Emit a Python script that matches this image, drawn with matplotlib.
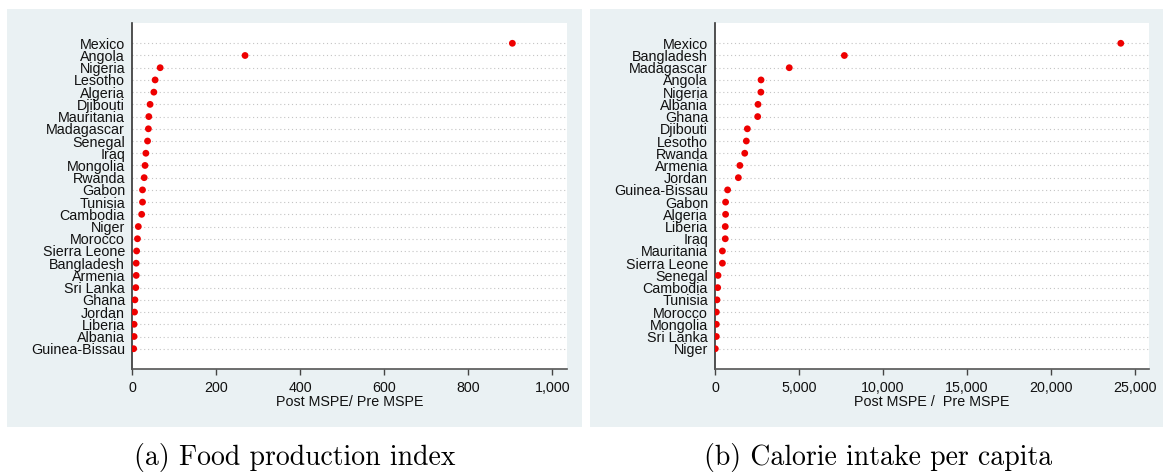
import matplotlib
matplotlib.use('Agg')
import matplotlib.pyplot as plt
from matplotlib.patches import Rectangle
from matplotlib.ticker import FuncFormatter

# panel (a): food production index
food_countries = ['Mexico', 'Angola', 'Nigeria', 'Lesotho', 'Algeria', 'Djibouti',
                  'Mauritania', 'Madagascar', 'Senegal', 'Iraq', 'Mongolia', 'Rwanda',
                  'Gabon', 'Tunisia', 'Cambodia', 'Niger', 'Morocco', 'Sierra Leone',
                  'Bangladesh', 'Armenia', 'Sri Lanka', 'Ghana', 'Jordan', 'Liberia',
                  'Albania', 'Guinea-Bissau']
food_ratio = [905, 269, 67, 55, 52, 43, 40, 39, 37, 33, 31, 29, 25, 25, 23, 15, 13,
              11, 10, 10, 9, 7, 6, 5, 5, 4]

# panel (b): calorie intake per capita
cal_countries = ['Mexico', 'Bangladesh', 'Madagascar', 'Angola', 'Nigeria', 'Albania',
                 'Ghana', 'Djibouti', 'Lesotho', 'Rwanda', 'Armenia', 'Jordan',
                 'Guinea-Bissau', 'Gabon', 'Algeria', 'Liberia', 'Iraq', 'Mauritania',
                 'Sierra Leone', 'Senegal', 'Cambodia', 'Tunisia', 'Morocco', 'Mongolia',
                 'Sri Lanka', 'Niger']
cal_ratio = [24150, 7700, 4420, 2740, 2730, 2560, 2540, 1925, 1865, 1770, 1480, 1390,
             750, 630, 630, 610, 610, 440, 440, 180, 160, 120, 80, 80, 80, 20]

food_ticks = [0, 200, 400, 600, 800, 1000]
cal_ticks = [0, 5000, 10000, 15000, 20000, 25000]

W, H = 1163, 472
BG = '#EAF1F3'
FS = 10.3
plt.rcParams['font.family'] = ['Liberation Sans', 'DejaVu Sans']

fig = plt.figure(figsize=(W / 100, H / 100), dpi=100)


def px_rect(x0, y0, x1, y1):
    # pixel box (top-left origin) -> figure fraction [left, bottom, width, height]
    return [x0 / W, (H - y1) / H, (x1 - x0) / W, (y1 - y0) / H]


# gray stata-style backgrounds
for (x0, y0, x1, y1) in [(7, 9, 582, 427), (590, 9, 1163, 427)]:
    l, b, w, h = px_rect(x0, y0, x1, y1)
    fig.patches.append(Rectangle((l, b), w, h, transform=fig.transFigure,
                                 facecolor=BG, edgecolor='none', zorder=-5))


def panel(rect, countries, vals, ticks, xmax, xlabel):
    ax = fig.add_axes(px_rect(*rect))
    ax.set_zorder(2)
    ax.set_facecolor('white')
    n = len(countries)
    ypos = list(range(n))
    for y in ypos:
        ax.axhline(y, color='#C4C4C4', lw=0.8, ls=(0, (1, 2.5)), zorder=1)
    ax.scatter(vals, ypos, s=24, color='#EE0000', edgecolors='none', zorder=3)
    ax.set_ylim(n - 1 + 1.66, -1.66)
    ax.set_xlim(0, xmax)
    ax.set_yticks(ypos)
    ax.set_yticklabels(countries, fontsize=FS, color='#111111')
    ax.set_xticks(ticks)
    ax.xaxis.set_major_formatter(FuncFormatter(lambda v, p: '{:,.0f}'.format(v)))
    ax.tick_params(axis='y', length=0, pad=5)
    ax.tick_params(axis='x', length=4, width=1, color='#444444', labelsize=FS,
                   labelcolor='#111111', pad=5)
    for s in ['top', 'right']:
        ax.spines[s].set_visible(False)
    ax.spines['left'].set_color('#333333')
    ax.spines['bottom'].set_color('#555555')
    ax.spines['left'].set_linewidth(1.2)
    ax.spines['bottom'].set_linewidth(1.2)
    ax.set_xlabel(xlabel, fontsize=FS, color='#111111', labelpad=0)
    return ax


panel((132, 23, 567, 369), food_countries, food_ratio, food_ticks, 1035,
      'Post MSPE/ Pre MSPE')
panel((715, 23, 1149, 369), cal_countries, cal_ratio, cal_ticks, 25830,
      'Post MSPE /  Pre MSPE')

fig.text(295 / W, 1 - 458 / H, '(a) Food production index', family='cmr10',
         fontsize=20, ha='center', va='center')
fig.text(878 / W, 1 - 458 / H, '(b) Calorie intake per capita', family='cmr10',
         fontsize=20, ha='center', va='center')

fig.savefig('out.png', dpi=100)
